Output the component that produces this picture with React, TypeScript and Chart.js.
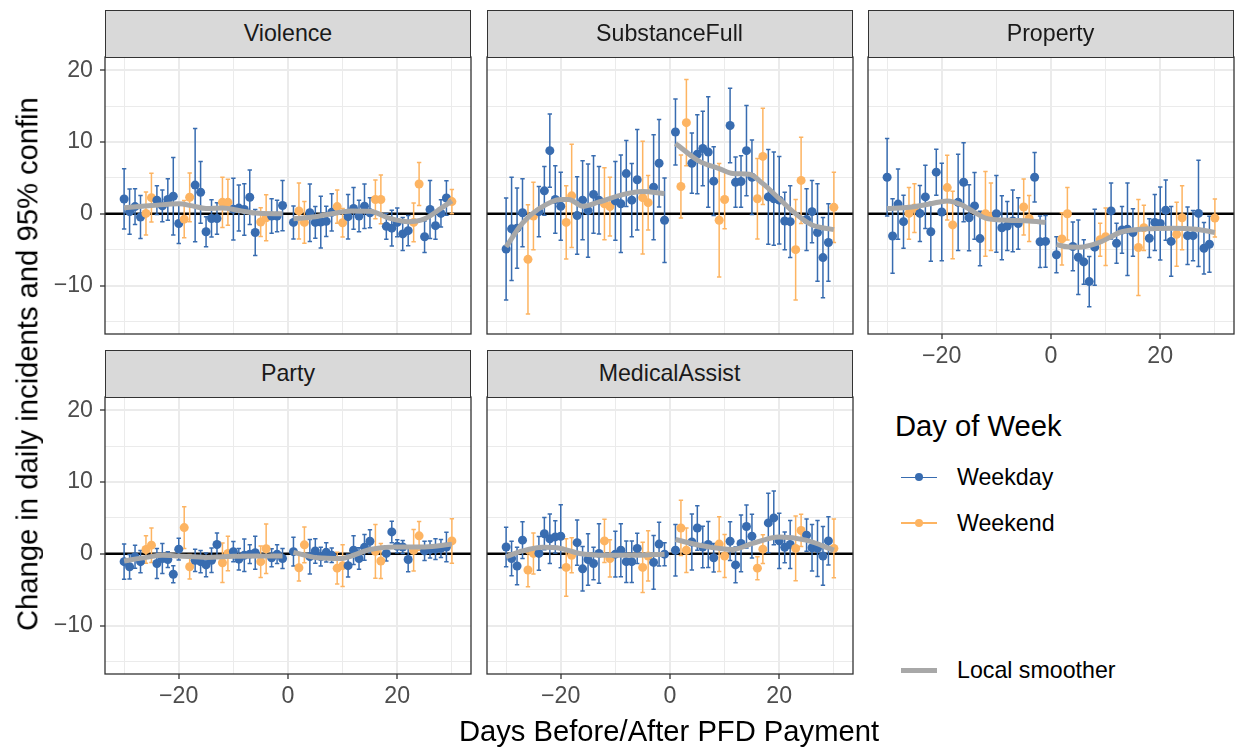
import React, { useEffect, useRef } from 'react';
import { Chart, registerables } from 'chart.js';

Chart.register(...registerables);

// ---------------- DATA ----------------
const DAYS = [
  -30, -29, -28, -27, -26, -25, -24, -23, -22, -21, -20, -19, -18, -17, -16,
  -15, -14, -13, -12, -11, -10, -9, -8, -7, -6, -5, -4, -3, -2, -1,
  1, 2, 3, 4, 5, 6, 7, 8, 9, 10, 11, 12, 13, 14, 15,
  16, 17, 18, 19, 20, 21, 22, 23, 24, 25, 26, 27, 28, 29, 30,
];

const WEEKEND_DAYS = [-26, -25, -19, -18, -12, -11, -5, -4, 2, 3, 9, 10, 16, 17, 23, 24, 30];

const X_TICKS = [-30, -20, -10, 0, 10, 20, 30];
const Y_TICKS = [-15, -10, -5, 0, 5, 10, 15, 20];

const VIOLENCE_EST = [
  2.07, 0.3, 1.0, -0.45, 0.05, 2.25, 1.9, 1.1, 2.0, 2.45, -1.35, -0.75, 2.3, 4.0, 3.0,
  -2.5, -0.65, -0.65, 1.6, 1.6, 0.65, 0.8, 0.6, 2.3, -2.6, -1.15, -0.55, -0.3, -0.3, 1.15,
  -1.2, 0.4, -1.2, 0.15, -1.2, -1.15, -1.05, 0.2, 1.0, -1.25, -0.4, 0.75, -0.3, 1.05, 0.15,
  2.0, 2.0, -1.75, -2.0, -1.2, -2.8, -2.35, -1.2, 4.15, -3.2, 0.6, -1.65, 0.05, 2.2, 1.7,
];
const VIOLENCE_CI = [
  4.2, 3.15, 2.5, 3.0, 3.0, 3.4, 2.0, 2.2, 2.9, 5.4, 2.8, 2.6, 3.4, 7.9, 4.3,
  2.1, 2.6, 2.2, 3.5, 3.2, 4.3, 3.2, 3.6, 3.8, 3.2, 2.0, 3.2, 2.4, 2.2, 3.5,
  2.3, 3.9, 2.9, 4.0, 2.2, 3.6, 2.1, 2.6, 2.3, 2.0, 3.1, 2.9, 2.2, 3.1, 2.1,
  2.7, 3.4, 1.8, 2.5, 2.0, 2.3, 2.1, 2.7, 3.0, 2.2, 4.05, 1.9, 1.9, 2.4, 1.7,
];
const VIOLENCE_SMOOTH_PRE = [
  [-30, 0.85], [-25, 1.15], [-20, 1.4], [-17.5, 1.1], [-15, 0.75], [-12, 0.8], [-9, 0.45], [-6, 0.1], [-1, 0.0],
];
const VIOLENCE_SMOOTH_POST = [
  [1, -0.7], [5, -0.4], [8, 0.0], [11.5, 0.4], [15, 0.35], [18.5, -0.6], [22, -1.1], [25, -0.7], [28, 0.75], [30, 1.8],
];

const SUBSTANCE_EST = [
  -4.9, -2.1, -2.0, 0.15, -6.35, -0.3, 0.3, 3.2, 8.8, 2.0, 1.05, -1.2, 2.5, -0.25, 1.9,
  0.45, 2.7, 1.9, 1.4, 1.0, 1.8, 1.4, 5.6, 1.9, 4.75, 2.25, 1.55, 3.7, 7.05, -0.9,
  11.4, 3.8, 12.7, 7.05, 8.3, 9.1, 8.6, 4.55, -0.9, 2.0, 12.3, 4.4, 4.5, 8.8, 5.1,
  2.1, 8.0, 2.35, 2.1, 1.9, -1.0, -1.1, -5.0, 4.65, -0.8, 0.3, -2.6, -6.1, -4.0, 0.9,
];
const SUBSTANCE_CI = [
  7.1, 7.2, 5.6, 4.75, 7.6, 4.7, 3.5, 3.4, 5.1, 4.7, 4.75, 5.1, 7.2, 5.4, 5.5,
  6.5, 5.4, 4.7, 5.0, 4.1, 5.5, 6.8, 4.6, 5.1, 7.0, 7.85, 3.8, 7.3, 6.1, 5.9,
  4.6, 4.4, 6.0, 4.2, 5.5, 5.2, 7.7, 4.8, 7.9, 4.1, 5.2, 3.5, 3.6, 6.3, 5.2,
  5.6, 6.7, 6.6, 6.5, 6.1, 4.0, 5.0, 7.0, 6.0, 4.3, 4.35, 6.8, 5.6, 5.4, 4.9,
];
const SUBSTANCE_SMOOTH_PRE = [
  [-30, -4.6], [-27, -1.3], [-24, 0.7], [-20, 2.0], [-18.5, 2.0], [-16, 1.05], [-13, 1.65], [-8.5, 2.7], [-5, 3.1], [-1, 2.8],
];
const SUBSTANCE_SMOOTH_POST = [
  [1, 9.8], [5.4, 7.3], [9, 6.3], [11.5, 5.6], [14.5, 5.5], [17, 4.2], [20, 2.1], [22.5, 0.3], [26, -1.55], [30, -2.2],
];

const PROPERTY_EST = [
  5.1, -3.1, 1.35, -1.1, 0.05, 0.8, 0.05, 2.35, -2.5, 5.8, 0.25, 3.65, -1.55, 1.6, 4.4,
  -0.55, 1.1, -3.45, 0.0, -0.4, 0.0, -1.95, -1.7, -1.0, -1.35, 0.95, -0.65, 5.1, -3.9, -3.85,
  -5.7, -3.5, 0.0, -4.55, -6.05, -6.7, -9.45, -4.65, -3.6, -3.2, 0.4, -4.1, -2.25, -2.15, -2.6,
  -4.7, -1.95, -3.4, -1.2, -1.35, 0.5, -3.85, -2.85, -0.55, -3.05, -3.05, 0.05, -4.8, -4.25, -0.6,
];
const PROPERTY_CI = [
  5.4, 5.2, 4.9, 3.7, 3.6, 3.4, 3.9, 4.4, 4.1, 3.2, 6.8, 4.5, 4.7, 6.7, 5.5,
  4.6, 4.65, 3.8, 5.9, 4.7, 5.35, 4.45, 3.4, 4.3, 3.6, 3.9, 3.2, 3.45, 3.6, 3.6,
  2.5, 3.65, 3.65, 3.4, 5.2, 3.1, 3.5, 5.3, 2.3, 4.0, 3.9, 2.8, 3.25, 6.45, 3.3,
  6.7, 3.15, 2.7, 3.9, 5.1, 4.2, 4.85, 4.45, 4.45, 4.0, 3.5, 7.4, 3.6, 3.9, 2.65,
];
const PROPERTY_SMOOTH_PRE = [
  [-30, 0.75], [-26, 0.9], [-22, 1.4], [-19, 1.8], [-16.5, 1.3], [-14, 0.2], [-12, -0.6], [-8, -0.9], [-4, -1.0], [-1, -1.2],
];
const PROPERTY_SMOOTH_POST = [
  [1, -4.3], [3, -4.6], [5.2, -4.65], [8.8, -4.0], [13, -2.5], [17.4, -2.1], [22.3, -2.0], [26.5, -2.15], [30, -2.6],
];

const PARTY_EST = [
  -1.1, -1.8, -0.4, -1.1, 0.6, 1.2, -1.35, -0.65, -0.8, -2.85, 0.65, 3.65, -1.8, -0.9, -1.1,
  -1.55, -0.9, 1.3, -1.25, 0.05, 0.3, -0.75, -0.2, -0.05, 0.15, -1.1, 0.7, -0.55, -0.05, -0.65,
  0.3, -1.95, 1.25, -0.4, 0.4, -0.4, 0.2, -0.2, -2.0, -1.65, -1.65, 0.5, -0.65, 0.9, 1.75,
  0.35, -1.0, 0.05, 3.05, 1.05, 0.95, -0.8, 0.5, 2.5, 0.4, 0.6, 0.65, 0.75, 0.95, 1.8,
];
const PARTY_CI = [
  2.45, 1.7, 1.6, 1.55, 1.9, 2.4, 2.1, 2.1, 1.1, 1.2, 1.5, 2.9, 1.7, 1.55, 1.55,
  1.65, 1.7, 1.6, 2.75, 2.4, 1.4, 1.5, 2.25, 1.3, 2.3, 2.2, 3.45, 1.25, 1.3, 1.4,
  2.0, 1.85, 2.5, 2.4, 1.7, 1.3, 1.35, 1.0, 2.2, 2.9, 1.6, 2.0, 1.5, 1.8, 1.6,
  3.75, 2.45, 1.05, 1.5, 0.9, 0.9, 1.7, 2.9, 2.0, 1.35, 1.2, 1.45, 1.25, 2.05, 3.1,
];
const PARTY_SMOOTH_PRE = [
  [-30, -1.0], [-26, -0.5], [-23, -0.2], [-20, -0.3], [-15, -0.5], [-10, -0.35], [-5, -0.3], [-1, -0.3],
];
const PARTY_SMOOTH_POST = [
  [1, 0.2], [5.4, -0.55], [9.6, -0.65], [12, -0.2], [15, 0.6], [19.4, 0.95], [25, 0.95], [30, 1.35],
];

const MEDICAL_EST = [
  0.95, -0.65, -1.7, 1.9, -2.25, 0.05, 0.05, 2.8, 2.1, 2.35, 2.45, -1.9, -0.2, 1.55, -2.1,
  -0.8, -1.35, 0.05, 1.8, -0.65, -0.05, 0.5, -1.1, -1.1, 0.75, -1.9, -0.3, -1.2, 1.35, -0.05,
  0.5, 3.6, 0.5, 1.65, 3.6, 0.95, 1.3, -0.55, 1.35, -0.3, 1.75, -1.55, 1.45, 3.8, 2.45,
  -2.0, 0.65, 4.3, 5.0, 1.8, 0.9, 1.3, 0.75, 3.25, 2.6, 0.85, 0.75, -0.3, 1.8, 0.75,
];
const MEDICAL_CI = [
  2.75, 2.4, 2.6, 2.55, 2.35, 2.85, 2.35, 2.25, 3.45, 2.25, 4.4, 4.0, 2.45, 3.15, 3.1,
  3.6, 2.25, 4.15, 3.0, 2.6, 3.2, 3.7, 2.9, 2.9, 2.1, 3.5, 3.5, 3.75, 3.05, 1.6,
  3.6, 3.85, 3.1, 3.9, 3.1, 2.9, 3.2, 2.0, 3.8, 3.0, 2.7, 2.5, 3.95, 3.0, 3.05,
  1.6, 2.0, 4.15, 3.75, 3.85, 2.15, 3.35, 4.5, 2.25, 2.25, 3.25, 3.9, 4.1, 3.35, 4.1,
];
const MEDICAL_SMOOTH_PRE = [
  [-30, -0.4], [-27, 0.4], [-23.3, 0.9], [-20, 0.75], [-16.6, 0.05], [-11.7, -0.2], [-5.6, -0.2], [-1, -0.05],
];
const MEDICAL_SMOOTH_POST = [
  [1, 2.0], [5.4, 1.2], [11.5, 0.6], [15.1, 1.45], [20, 2.35], [24.9, 1.9], [30, 0.5],
];

// ---------------- STYLE / LAYOUT ----------------
const FONT = '"Liberation Sans", Arial, Helvetica, sans-serif';
const WEEKDAY_COLOR = '#386CB0';
const WEEKEND_COLOR = '#FDB462';
const SMOOTH_COLOR = '#A8A8A8';
const GRID_COLOR = '#EBEBEB';
const FRAME_COLOR = '#333333';
const TICK_TEXT = '#4D4D4D';

const X_MIN = -33.5;
const X_MAX = 33.5;
const Y_MIN = -16.75;
const Y_MAX = 21.85;
const CAP_WIDTH = 0.8; // error-bar cap width in days

const PLOT_W = 366;
const PLOT_H = 277;
const STRIP_H = 47.5;
const Y_AXIS_W = 60;
const X_AXIS_H = 40;
const EDGE = 2;
const SMALL = 23.2;
const BIG = 29.2;

type Pt = number[];
interface PanelCfg {
  title: string;
  est: number[];
  ci: number[];
  pre: Pt[];
  post: Pt[];
  left: number;
  top: number;
  showY: boolean;
  showX: boolean;
}

const PANELS: PanelCfg[] = [
  { title: 'Violence', est: VIOLENCE_EST, ci: VIOLENCE_CI, pre: VIOLENCE_SMOOTH_PRE, post: VIOLENCE_SMOOTH_POST, left: 105, top: 57, showY: true, showX: false },
  { title: 'SubstanceFull', est: SUBSTANCE_EST, ci: SUBSTANCE_CI, pre: SUBSTANCE_SMOOTH_PRE, post: SUBSTANCE_SMOOTH_POST, left: 486.5, top: 57, showY: false, showX: false },
  { title: 'Property', est: PROPERTY_EST, ci: PROPERTY_CI, pre: PROPERTY_SMOOTH_PRE, post: PROPERTY_SMOOTH_POST, left: 867.5, top: 57, showY: false, showX: true },
  { title: 'Party', est: PARTY_EST, ci: PARTY_CI, pre: PARTY_SMOOTH_PRE, post: PARTY_SMOOTH_POST, left: 105, top: 397, showY: true, showX: true },
  { title: 'MedicalAssist', est: MEDICAL_EST, ci: MEDICAL_CI, pre: MEDICAL_SMOOTH_PRE, post: MEDICAL_SMOOTH_POST, left: 486.5, top: 397, showY: false, showX: true },
];

const fmt = (v: number) => (v < 0 ? '\u2212' + Math.abs(v) : String(v));
const isMajorX = (v: number) => v % 20 === 0;
const isMajorY = (v: number) => v % 10 === 0;

const zeroPadding = (s: any) => {
  s.paddingTop = 0;
  s.paddingBottom = 0;
  s.paddingLeft = 0;
  s.paddingRight = 0;
};

const errorBarPlugin = {
  id: 'errorBars',
  beforeDatasetDraw(chart: any, args: any) {
    const ds = chart.data.datasets[args.index];
    if (!ds.errorBars) return;
    const { ctx, chartArea, scales } = chart;
    const xs = scales.x;
    const ys = scales.y;
    ctx.save();
    ctx.beginPath();
    ctx.rect(chartArea.left, chartArea.top, chartArea.right - chartArea.left, chartArea.bottom - chartArea.top);
    ctx.clip();
    ctx.lineWidth = 1.5;
    ds.data.forEach((p: any, i: number) => {
      const px = xs.getPixelForValue(p.x);
      const hw = xs.getPixelForValue(p.x + CAP_WIDTH / 2) - px;
      const yHi = ys.getPixelForValue(p.y + p.ci);
      const yLo = ys.getPixelForValue(p.y - p.ci);
      ctx.strokeStyle = ds.pointBackgroundColor[i];
      ctx.beginPath();
      ctx.moveTo(px, yHi);
      ctx.lineTo(px, yLo);
      ctx.moveTo(px - hw, yHi);
      ctx.lineTo(px + hw, yHi);
      ctx.moveTo(px - hw, yLo);
      ctx.lineTo(px + hw, yLo);
      ctx.stroke();
    });
    ctx.restore();
  },
};

const framePlugin = {
  id: 'frame',
  afterDraw(chart: any) {
    const { ctx, chartArea } = chart;
    ctx.save();
    ctx.strokeStyle = FRAME_COLOR;
    ctx.lineWidth = 1.3;
    ctx.strokeRect(chartArea.left, chartArea.top, chartArea.right - chartArea.left, chartArea.bottom - chartArea.top);
    ctx.restore();
  },
};

function Panel({ cfg }: { cfg: PanelCfg }) {
  const ref = useRef<HTMLCanvasElement>(null);
  const padL = (cfg.showY ? Y_AXIS_W : 0) + EDGE;
  const padB = (cfg.showX ? X_AXIS_H : 0) + EDGE;
  const width = PLOT_W + padL + EDGE;
  const height = PLOT_H + EDGE + padB;

  useEffect(() => {
    if (!ref.current) return;
    const points = DAYS.map((d, i) => ({ x: d, y: cfg.est[i], ci: cfg.ci[i] }));
    const colors = DAYS.map((d) => (WEEKEND_DAYS.includes(d) ? WEEKEND_COLOR : WEEKDAY_COLOR));
    const toXY = (arr: Pt[]) => arr.map((p) => ({ x: p[0], y: p[1] }));

    const chart = new Chart(ref.current, {
      type: 'scatter',
      data: {
        datasets: [
          {
            type: 'line',
            data: toXY(cfg.pre),
            borderColor: SMOOTH_COLOR,
            borderWidth: 5,
            pointRadius: 0,
            cubicInterpolationMode: 'monotone',
            order: 0,
          } as any,
          {
            type: 'line',
            data: toXY(cfg.post),
            borderColor: SMOOTH_COLOR,
            borderWidth: 5,
            pointRadius: 0,
            cubicInterpolationMode: 'monotone',
            order: 0,
          } as any,
          {
            type: 'scatter',
            data: points,
            errorBars: true,
            pointBackgroundColor: colors,
            pointBorderWidth: 0,
            pointRadius: 4.5,
            order: 1,
          } as any,
          {
            type: 'line',
            data: [{ x: X_MIN, y: 0 }, { x: X_MAX, y: 0 }],
            borderColor: '#000000',
            borderWidth: 2.5,
            pointRadius: 0,
            order: 2,
          } as any,
        ],
      },
      options: {
        animation: false,
        responsive: false,
        events: [],
        layout: { autoPadding: false, padding: { left: EDGE, right: EDGE, top: EDGE, bottom: EDGE } } as any,
        plugins: { legend: { display: false }, tooltip: { enabled: false } },
        scales: {
          x: {
            type: 'linear',
            min: X_MIN,
            max: X_MAX,
            afterBuildTicks: (s: any) => {
              s.ticks = X_TICKS.map((value) => ({ value }));
            },
            afterFit: (s: any) => {
              s.height = cfg.showX ? X_AXIS_H : 0;
              zeroPadding(s);
            },
            border: { display: false },
            grid: {
              color: GRID_COLOR,
              lineWidth: (c: any) => (c.tick && isMajorX(c.tick.value) ? 2 : 1),
              drawTicks: cfg.showX,
              tickLength: 5,
              tickWidth: 1.3,
              tickColor: (c: any) => (c.tick && isMajorX(c.tick.value) ? FRAME_COLOR : 'rgba(0,0,0,0)'),
            },
            ticks: {
              display: cfg.showX,
              autoSkip: false,
              maxRotation: 0,
              padding: 4,
              color: TICK_TEXT,
              font: { family: FONT, size: SMALL },
              callback: (v: any) => (isMajorX(Number(v)) ? fmt(Number(v)) : ''),
            },
          },
          y: {
            type: 'linear',
            min: Y_MIN,
            max: Y_MAX,
            afterBuildTicks: (s: any) => {
              s.ticks = Y_TICKS.map((value) => ({ value }));
            },
            afterFit: (s: any) => {
              s.width = cfg.showY ? Y_AXIS_W : 0;
              zeroPadding(s);
            },
            border: { display: false },
            grid: {
              color: GRID_COLOR,
              lineWidth: (c: any) => (c.tick && isMajorY(c.tick.value) ? 2 : 1),
              drawTicks: cfg.showY,
              tickLength: 5,
              tickWidth: 1.3,
              tickColor: (c: any) => (c.tick && isMajorY(c.tick.value) ? FRAME_COLOR : 'rgba(0,0,0,0)'),
            },
            ticks: {
              display: cfg.showY,
              autoSkip: false,
              padding: 7,
              color: TICK_TEXT,
              font: { family: FONT, size: SMALL },
              callback: (v: any) => (isMajorY(Number(v)) ? fmt(Number(v)) : ''),
            },
          },
        },
      } as any,
      plugins: [errorBarPlugin, framePlugin],
    });
    return () => chart.destroy();
  }, []);

  return (
    <canvas
      ref={ref}
      width={width}
      height={height}
      style={{ position: 'absolute', left: cfg.left - padL, top: cfg.top - EDGE, width, height }}
    />
  );
}

export default function App() {
  const abs = { position: 'absolute' as const };
  return (
    <div style={{ ...abs, left: 0, top: 0, width: 1238, height: 749, background: '#ffffff', fontFamily: FONT, overflow: 'hidden' }}>
      {PANELS.map((p) => (
        <Panel key={p.title} cfg={p} />
      ))}
      {PANELS.map((p) => (
        <div
          key={p.title + '-strip'}
          style={{
            ...abs,
            left: p.left,
            top: p.top - STRIP_H,
            width: PLOT_W,
            height: STRIP_H + 0.6,
            boxSizing: 'border-box',
            border: '1.3px solid ' + FRAME_COLOR,
            background: '#D9D9D9',
            display: 'flex',
            alignItems: 'center',
            justifyContent: 'center',
            fontSize: SMALL,
            color: '#1A1A1A',
          }}
        >
          {p.title}
        </div>
      ))}
      <div
        style={{
          ...abs,
          left: 28,
          top: 364,
          transform: 'translate(-50%, -50%) rotate(-90deg)',
          whiteSpace: 'nowrap',
          fontSize: BIG,
          lineHeight: 1,
          color: '#000',
        }}
      >
        Change in daily incidents and 95% confin
      </div>
      <div
        style={{
          ...abs,
          left: 669,
          top: 732,
          transform: 'translate(-50%, -50%)',
          whiteSpace: 'nowrap',
          fontSize: BIG,
          lineHeight: 1,
          color: '#000',
        }}
      >
        Days Before/After PFD Payment
      </div>
      {/* Legend */}
      <div style={{ ...abs, left: 895, top: 412.2, fontSize: BIG, lineHeight: 1, whiteSpace: 'nowrap', color: '#000' }}>Day of Week</div>
      <div style={{ ...abs, left: 900.7, top: 476.7, width: 36.6, height: 1.3, background: WEEKDAY_COLOR }} />
      <div style={{ ...abs, left: 914.8, top: 473.1, width: 8.4, height: 8.4, borderRadius: '50%', background: WEEKDAY_COLOR }} />
      <div style={{ ...abs, left: 957, top: 465.5, fontSize: SMALL, lineHeight: 1, whiteSpace: 'nowrap', color: '#000' }}>Weekday</div>
      <div style={{ ...abs, left: 900.7, top: 522.4, width: 36.6, height: 1.3, background: WEEKEND_COLOR }} />
      <div style={{ ...abs, left: 914.8, top: 518.8, width: 8.4, height: 8.4, borderRadius: '50%', background: WEEKEND_COLOR }} />
      <div style={{ ...abs, left: 957, top: 511.5, fontSize: SMALL, lineHeight: 1, whiteSpace: 'nowrap', color: '#000' }}>Weekend</div>
      <div style={{ ...abs, left: 900.7, top: 667.8, width: 36.6, height: 5, background: SMOOTH_COLOR }} />
      <div style={{ ...abs, left: 957, top: 658.8, fontSize: SMALL, lineHeight: 1, whiteSpace: 'nowrap', color: '#000' }}>Local smoother</div>
    </div>
  );
}
